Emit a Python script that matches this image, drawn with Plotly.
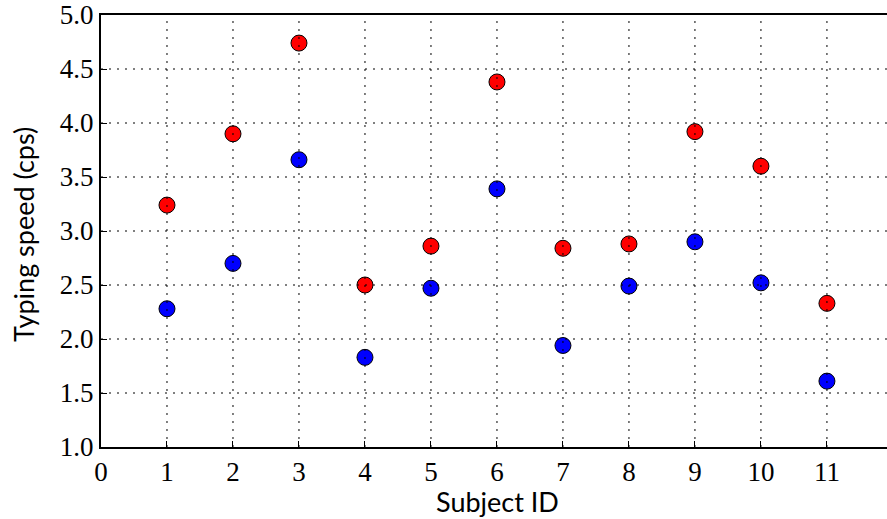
import plotly.graph_objects as go

subjects = [1, 2, 3, 4, 5, 6, 7, 8, 9, 10, 11]
red_speed = [3.24, 3.90, 4.74, 2.50, 2.86, 4.38, 2.84, 2.88, 3.92, 3.60, 2.33]
blue_speed = [2.28, 2.70, 3.66, 1.83, 2.47, 3.39, 1.94, 2.49, 2.90, 2.52, 1.61]
x_ticks = [0, 1, 2, 3, 4, 5, 6, 7, 8, 9, 10, 11]
y_ticks = [1.0, 1.5, 2.0, 2.5, 3.0, 3.5, 4.0, 4.5, 5.0]

fig = go.Figure()
for vals, col in [(red_speed, "#ff0000"), (blue_speed, "#0000ff")]:
    fig.add_trace(go.Scatter(
        x=subjects, y=vals, mode="markers",
        marker=dict(size=16, color=col, line=dict(color="black", width=1)),
        showlegend=False))

dot = dict(color="black", width=1, dash="2px,6px")
for xv in x_ticks[1:]:
    fig.add_shape(type="line", xref="x", yref="paper", x0=xv, x1=xv, y0=0, y1=1,
                  line=dot, layer="above")
for yv in y_ticks[1:-1]:
    fig.add_shape(type="line", xref="paper", yref="y", x0=0, x1=1, y0=yv, y1=yv,
                  line=dot, layer="above")

# plot area: left 101, top 15, bottom 447 (page px)
labelfont = dict(family="Lato", size=27, color="black")
fig.add_annotation(text="Subject ID", xref="paper", yref="paper", x=0.504, y=-0.127,
                   xanchor="center", yanchor="middle", showarrow=False, font=labelfont)
fig.add_annotation(text="Typing speed (cps)", xref="paper", yref="paper", x=-0.0992, y=0.4907,
                   xanchor="center", yanchor="middle", textangle=-90, showarrow=False,
                   font=labelfont)

tickfont = dict(family="Liberation Serif", size=27, color="black")
fig.update_layout(
    width=887, height=519,
    margin=dict(l=101, r=0, t=15, b=72),
    plot_bgcolor="white", paper_bgcolor="white",
    xaxis=dict(range=[0, 11.91], tickvals=x_ticks, ticktext=[str(v) for v in x_ticks],
               ticks="inside", ticklen=6, tickcolor="black", tickwidth=1,
               showgrid=False, zeroline=False, showline=True, linecolor="black",
               linewidth=2, mirror=True, tickfont=tickfont, automargin=False,
               ticklabeloverflow="allow"),
    yaxis=dict(range=[1.0, 5.0], tickvals=y_ticks, ticktext=[f"{v:.1f}" for v in y_ticks],
               ticks="inside", ticklen=6, tickcolor="black", tickwidth=1,
               showgrid=False, zeroline=False, showline=True, linecolor="black",
               linewidth=2, tickfont=tickfont, automargin=False,
               ticklabeloverflow="allow"),
)
fig.write_html("out.html", config={"displayModeBar": False},
               post_script="document.body.style.margin='0px';document.body.style.overflow='hidden';")
